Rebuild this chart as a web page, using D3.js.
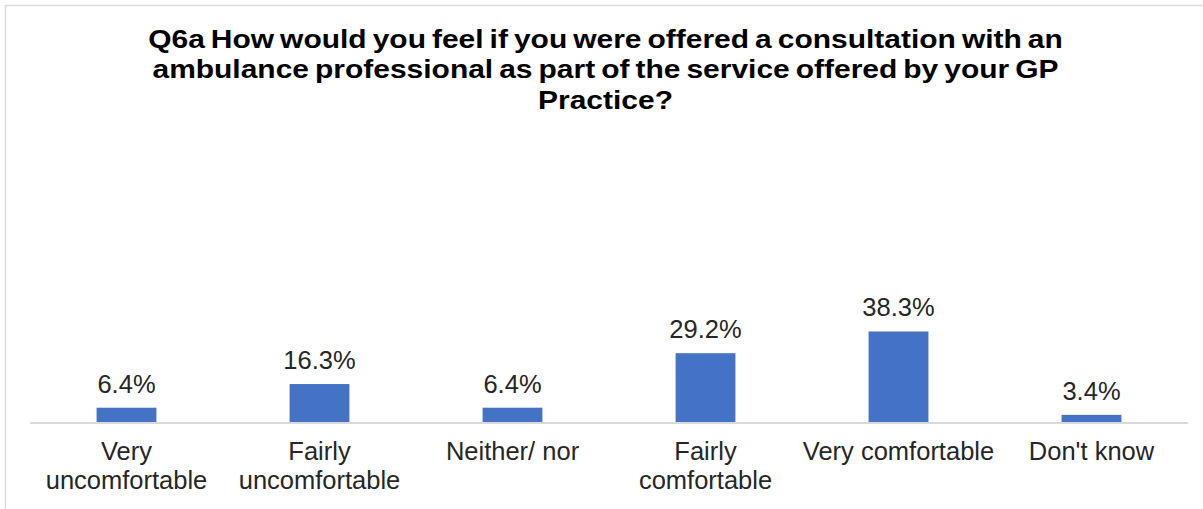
<!DOCTYPE html>
<html>
<head>
<meta charset="utf-8">
<script src="https://cdn.jsdelivr.net/npm/d3@7/dist/d3.min.js"></script>
<style>
  html, body { margin: 0; padding: 0; background: #fff; }
  svg { display: block; }
  text { font-family: "Liberation Sans", Arial, sans-serif; }
</style>
</head>
<body>
<svg id="chart" width="1203" height="509"></svg>
<script>
// Survey responses, Q6a
const categories = ["Very uncomfortable", "Fairly uncomfortable", "Neither/ nor", "Fairly comfortable", "Very comfortable", "Don't know"];
const percentages = [6.4, 16.3, 6.4, 29.2, 38.3, 3.4];
const titleLines = [
  "Q6a How would you feel if you were offered a consultation with an",
  "ambulance professional as part of the service offered by your GP",
  "Practice?"
];

const W = 1203, H = 509;
const svg = d3.select("#chart");

// chart frame (right and bottom edges run past the visible area)
svg.append("rect")
  .attr("x", 5.5).attr("y", 5.5)
  .attr("width", W + 100).attr("height", H + 100)
  .attr("fill", "#fff").attr("stroke", "#d9d9d9").attr("stroke-width", 1.5);

// title: wide bold face, stretched horizontally to fill its box
const titleCx = 605.5, titleWidth = 915;
const titleG = svg.append("g");
const title = titleG.append("text")
  .attr("text-anchor", "middle")
  .attr("font-size", 26).attr("font-weight", "bold")
  .attr("word-spacing", -2)
  .attr("fill", "#000");
titleLines.forEach((line, i) => {
  title.append("tspan").attr("x", 0).attr("y", 48 + i * 30.5).text(line);
});
const firstLine = title.select("tspan").node().getComputedTextLength();
titleG.attr("transform", `translate(${titleCx},0) scale(${titleWidth / firstLine},1)`);

const plot = { left: 30, right: 1188, baseline: 423 };

const x = d3.scaleBand()
  .domain(categories)
  .range([plot.left, plot.right])
  .paddingInner(0.69).paddingOuter(0.345);

const y = d3.scaleLinear()
  .domain([0, 45])
  .range([plot.baseline, plot.baseline - 45 * 2.39]);

// bars
svg.append("g").selectAll("rect")
  .data(categories)
  .join("rect")
  .attr("x", d => x(d))
  .attr("width", x.bandwidth())
  .attr("y", (d, i) => y(percentages[i]))
  .attr("height", (d, i) => y(0) - y(percentages[i]))
  .attr("fill", "#4472c4");

// value labels
svg.append("g").selectAll("text")
  .data(categories)
  .join("text")
  .attr("x", d => x(d) + x.bandwidth() / 2)
  .attr("y", (d, i) => y(percentages[i]) - 15)
  .attr("text-anchor", "middle")
  .attr("font-size", 25.5)
  .attr("fill", "#262626")
  .text((d, i) => percentages[i].toFixed(1) + "%");

// category axis
const xAxis = svg.append("g")
  .attr("transform", `translate(0,${plot.baseline})`)
  .call(d3.axisBottom(x).tickSize(0).tickPadding(0).tickSizeOuter(0));
xAxis.select(".domain")
  .attr("stroke", "#d9d9d9").attr("stroke-width", 2)
  .attr("d", `M${plot.left},0H${plot.right}`);
xAxis.selectAll(".tick text")
  .attr("font-size", 25.5)
  .attr("font-family", "Liberation Sans, Arial, sans-serif")
  .attr("fill", "#262626")
  .each(function (d) { wrap(d3.select(this), d, 192); });

function wrap(sel, label, width) {
  const words = label.split(" ");
  sel.text(null).attr("y", null).attr("dy", null);
  let line = [];
  let lineNo = 0;
  let tspan = sel.append("tspan").attr("x", 0).attr("y", 37);
  for (const w of words) {
    line.push(w);
    tspan.text(line.join(" "));
    if (tspan.node().getComputedTextLength() > width && line.length > 1) {
      line.pop();
      tspan.text(line.join(" "));
      line = [w];
      lineNo++;
      tspan = sel.append("tspan").attr("x", 0).attr("y", 37 + lineNo * 29).text(w);
    }
  }
}
</script>
</body>
</html>
